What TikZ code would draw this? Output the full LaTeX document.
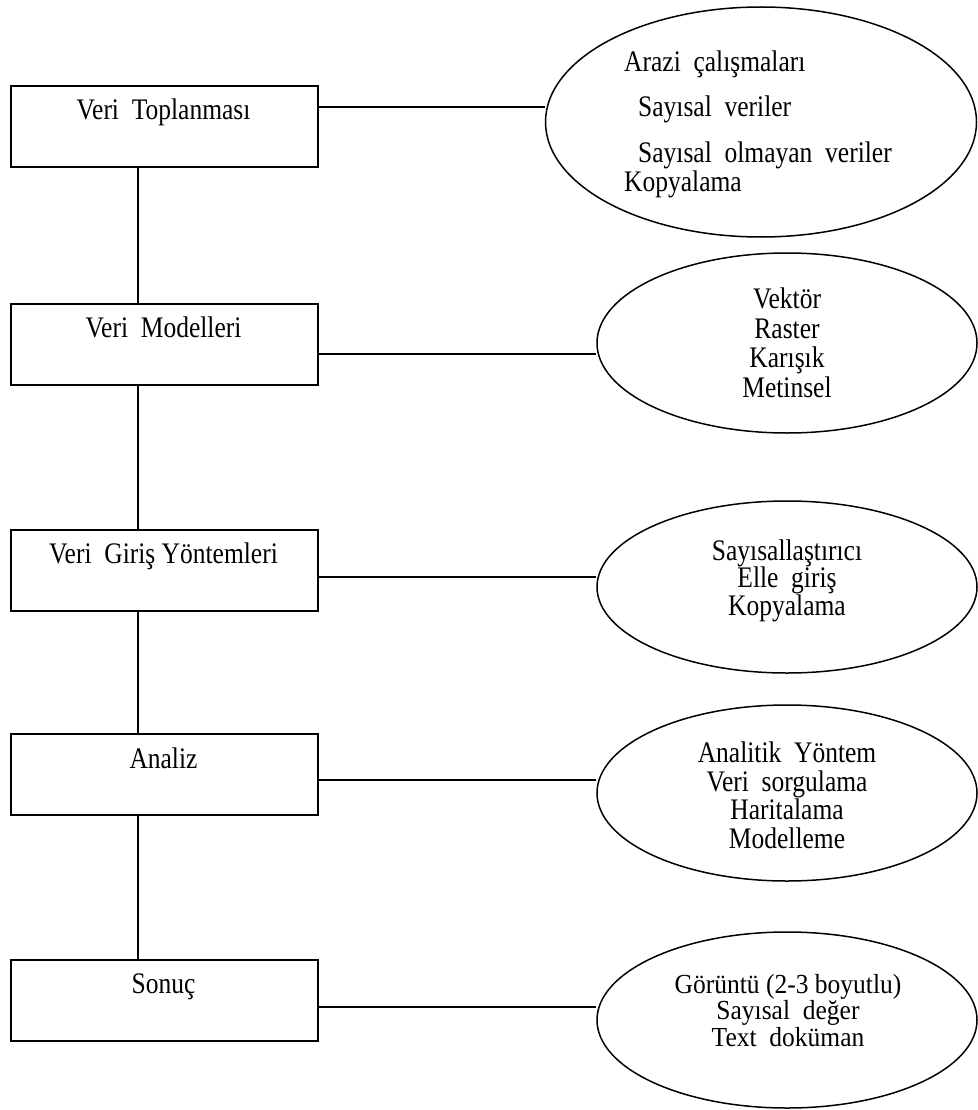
\documentclass[tikz,border=0pt]{standalone}
\usepackage{fontspec}
\setmainfont{Liberation Serif}
\usepackage{graphicx}
\usetikzlibrary{shapes.geometric}
\newcommand{\vst}[1]{\scalebox{1}[1.17]{#1}}
\newcommand{\vsl}[1]{\scalebox{1}[1.08]{#1}}
\newcommand{\ellfont}[1]{\fontsize{25.5}{#1}\selectfont\lineskiplimit=-100pt\relax\lineskip=0pt\relax}
\begin{document}
\begin{tikzpicture}[x=1pt,y=1pt,
  box/.style={draw, line width=1.6pt, minimum width=307pt, minimum height=81pt, inner sep=0pt, anchor=north west},
  oval/.style={draw, ellipse, line width=1.5pt, inner sep=0pt},
  txt/.style={anchor=base, inner sep=0pt, font=\fontsize{25.5}{29}\selectfont},
  txtw/.style={txt, anchor=base west},
  txtc/.style={anchor=base, inner sep=0pt, align=center, font=\ellfont{#1}},
  conn/.style={line width=1.6pt}]
\useasboundingbox (0,0) rectangle (977,-1110);

% boxes
\node[box] (b1) at (10,-85) {};
\node[box] (b2) at (10,-303) {};
\node[box] (b3) at (10,-529) {};
\node[box] (b4) at (10,-733) {};
\node[box] (b5) at (10,-959) {};

\node[txt] (t1) at (163.5,-120) {\vst{Veri\ \ Toplanması}};
\node[txt] (t2) at (163.5,-337) {\vst{Veri\ \ Modelleri}};
\node[txt] (t3) at (163.5,-563) {\vst{Veri\ \ Giriş Yöntemleri}};
\node[txt] (t4) at (163.5,-768) {\vst{Analiz}};
\node[txt] (t5) at (163.5,-993) {\vst{Sonuç}};

% ellipses
\node[oval, minimum width=431pt, minimum height=230pt] (e1) at (761,-122) {};
\node[oval, minimum width=380pt, minimum height=180pt] (e2) at (787,-343) {};
\node[oval, minimum width=380pt, minimum height=172pt] (e3) at (787,-587) {};
\node[oval, minimum width=380pt, minimum height=176pt] (e4) at (787,-793) {};
\node[oval, minimum width=380pt, minimum height=176pt] (e5) at (787,-1020) {};

% ellipse 1 text
\node[txtw] (a1) at (624,-72) {\vst{Arazi\ \ çalışmaları}};
\node[txtw] (a2) at (638,-117) {\vst{Sayısal\ \ veriler}};
\node[txtw] (a3) at (638,-163) {\vst{Sayısal\ \ olmayan\ \ veriler}};
\node[txtw] (a4) at (624,-192) {\vst{Kopyalama}};

% ellipse 2 text (anchor = baseline of last line)
\node[txtc=29.5] (m) at (787,-397) {\vst{Vektör}\\ \vst{Raster}\\ \vst{Karışık}\\ \vst{Metinsel}};

% ellipse 3 text
\node[txtc=27.5] (g) at (787,-615) {\vst{Sayısallaştırıcı}\\ \vst{Elle\ \ giriş}\\ \vst{Kopyalama}};

% ellipse 4 text
\node[txtc=28.5] (n) at (787,-848) {\vst{Analitik\ \ Yöntem}\\ \vst{Veri\ \ sorgulama}\\ \vst{Haritalama}\\ \vst{Modelleme}};

% ellipse 5 text
\node[txtc=26.5] (s) at (788,-1046) {\vsl{Görüntü (2-3 boyutlu)}\\ \vsl{Sayısal\ \ değer}\\ \vsl{Text\ \ doküman}};

% vertical connectors
\draw[conn] (b1.south -| 138,0) -- (b2.north -| 138,0);
\draw[conn] (b2.south -| 138,0) -- (b3.north -| 138,0);
\draw[conn] (b3.south -| 138,0) -- (b4.north -| 138,0);
\draw[conn] (b4.south -| 138,0) -- (b5.north -| 138,0);

% horizontal connectors
\draw[conn] (b1.east |- 0,-107) -- (e1.west |- 0,-107);
\draw[conn] (b2.east |- 0,-354) -- (e2.west |- 0,-354);
\draw[conn] (b3.east |- 0,-577) -- (e3.west |- 0,-577);
\draw[conn] (b4.east |- 0,-780) -- (e4.west |- 0,-780);
\draw[conn] (b5.east |- 0,-1007) -- (e5.west |- 0,-1007);
\end{tikzpicture}
\end{document}
